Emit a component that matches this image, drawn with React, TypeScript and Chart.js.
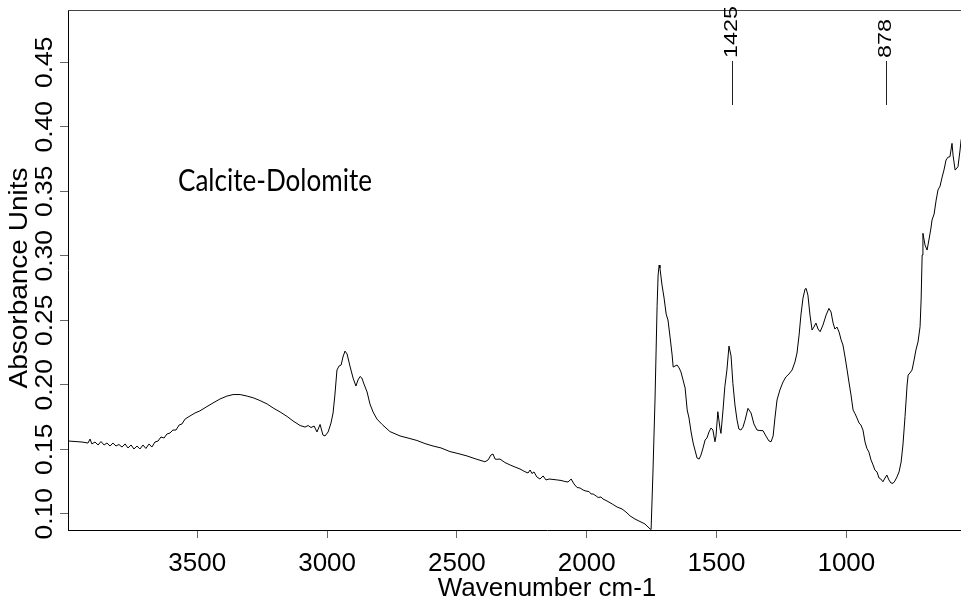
import React, { useEffect, useRef } from 'react';
import { Chart, registerables } from 'chart.js';

Chart.register(...registerables);

const wavenumbers = [
  3998, 3971, 3944, 3921, 3913, 3906, 3894, 3882, 3871, 3859, 3848, 3836, 3825, 3813, 3802, 3790,
  3778, 3767, 3755, 3744, 3732, 3721, 3709, 3698, 3686, 3675, 3663, 3651, 3640, 3628, 3617, 3605,
  3594, 3582, 3570, 3559, 3547, 3528, 3509, 3490, 3466, 3440, 3413, 3386, 3362, 3335, 3308, 3282,
  3258, 3231, 3208, 3181, 3154, 3131, 3104, 3085, 3073, 3062, 3050, 3039, 3027, 3016, 3008, 2996,
  2985, 2977, 2970, 2962, 2954, 2946, 2939, 2931, 2923, 2912, 2900, 2889, 2881, 2873, 2866, 2858,
  2846, 2835, 2823, 2808, 2788, 2758, 2719, 2681, 2654, 2623, 2592, 2561, 2527, 2496, 2461, 2426,
  2392, 2380, 2369, 2361, 2353, 2346, 2334, 2315, 2295, 2276, 2257, 2238, 2226, 2218, 2211, 2203,
  2192, 2180, 2168, 2157, 2145, 2130, 2114, 2099, 2084, 2072, 2060, 2049, 2037, 2026, 2014, 2003,
  1991, 1983, 1975, 1964, 1956, 1945, 1937, 1922, 1902, 1883, 1864, 1849, 1833, 1814, 1795, 1776,
  1756, 1752, 1745, 1737, 1729, 1725, 1721, 1718, 1710, 1702, 1694, 1687, 1679, 1671, 1667, 1660,
  1652, 1644, 1637, 1629, 1621, 1613, 1606, 1598, 1590, 1583, 1575, 1567, 1560, 1552, 1544, 1537,
  1529, 1521, 1514, 1506, 1502, 1495, 1487, 1483, 1475, 1468, 1460, 1452, 1444, 1437, 1429, 1421,
  1414, 1406, 1398, 1390, 1379, 1367, 1356, 1344, 1333, 1321, 1310, 1298, 1290, 1282, 1275, 1267,
  1256, 1244, 1233, 1221, 1209, 1198, 1190, 1182, 1175, 1167, 1159, 1155, 1148, 1140, 1132, 1125,
  1117, 1109, 1101, 1090, 1078, 1067, 1059, 1051, 1044, 1036, 1028, 1020, 1013, 1005, 997, 990,
  982, 974, 967, 959, 951, 944, 936, 928, 921, 913, 905, 897, 890, 882, 874, 867,
  859, 851, 844, 836, 828, 820, 813, 805, 797, 789, 782, 774, 766, 762, 755, 747,
  739, 732, 724, 716, 712, 708, 705, 697, 689, 682, 674, 670, 662, 654, 647, 639,
  631, 624, 616, 608, 601, 597, 593, 589, 581, 574, 570, 562, 558, 551,
];

const absorbance = [
  0.1564, 0.1560, 0.1556, 0.1548, 0.1579, 0.1541, 0.1556, 0.1533, 0.1560, 0.1533, 0.1548, 0.1525, 0.1548, 0.1525, 0.1537, 0.1517,
  0.1541, 0.1510, 0.1533, 0.1502, 0.1525, 0.1502, 0.1533, 0.1506, 0.1541, 0.1517, 0.1556, 0.1564, 0.1595, 0.1587, 0.1618, 0.1626,
  0.1649, 0.1649, 0.1688, 0.1696, 0.1734, 0.1758, 0.1781, 0.1797, 0.1827, 0.1858, 0.1889, 0.1912, 0.1924, 0.1924, 0.1912, 0.1897,
  0.1877, 0.1851, 0.1820, 0.1789, 0.1754, 0.1719, 0.1684, 0.1672, 0.1684, 0.1668, 0.1680, 0.1634, 0.1692, 0.1610, 0.1603, 0.1634,
  0.1703, 0.1781, 0.1920, 0.2114, 0.2145, 0.2153, 0.2215, 0.2261, 0.2238, 0.2145, 0.2052, 0.1990, 0.2037, 0.2064, 0.2052, 0.2006,
  0.1944, 0.1851, 0.1789, 0.1734, 0.1692, 0.1637, 0.1603, 0.1583, 0.1568, 0.1544, 0.1525, 0.1510, 0.1482, 0.1467, 0.1448, 0.1424,
  0.1403, 0.1417, 0.1455, 0.1463, 0.1424, 0.1422, 0.1424, 0.1397, 0.1378, 0.1362, 0.1347, 0.1326, 0.1316, 0.1339, 0.1312, 0.1324,
  0.1285, 0.1269, 0.1293, 0.1262, 0.1269, 0.1266, 0.1262, 0.1258, 0.1250, 0.1246, 0.1269, 0.1231, 0.1203, 0.1200, 0.1184, 0.1176,
  0.1172, 0.1153, 0.1153, 0.1138, 0.1126, 0.1130, 0.1114, 0.1099, 0.1076, 0.1052, 0.1037, 0.1014, 0.0983, 0.0959, 0.0940, 0.0921,
  0.0882, 0.0878, 0.1316, 0.1882, 0.2605, 0.2850, 0.2928, 0.2905, 0.2773, 0.2672, 0.2548, 0.2502, 0.2370, 0.2230, 0.2137, 0.2145,
  0.2153, 0.2130, 0.2099, 0.2037, 0.1975, 0.1804, 0.1742, 0.1634, 0.1548, 0.1494, 0.1432, 0.1424, 0.1455, 0.1510, 0.1572, 0.1587,
  0.1634, 0.1665, 0.1649, 0.1558, 0.1603, 0.1791, 0.1665, 0.1623, 0.1804, 0.1985, 0.2114, 0.2300, 0.2222, 0.2011, 0.1843, 0.1726,
  0.1657, 0.1649, 0.1672, 0.1726, 0.1817, 0.1781, 0.1696, 0.1649, 0.1645, 0.1644, 0.1603, 0.1564, 0.1558, 0.1603, 0.1742, 0.1882,
  0.1959, 0.2021, 0.2060, 0.2083, 0.2114, 0.2176, 0.2246, 0.2385, 0.2540, 0.2672, 0.2742, 0.2747, 0.2695, 0.2540, 0.2424, 0.2447,
  0.2478, 0.2432, 0.2411, 0.2463, 0.2540, 0.2592, 0.2564, 0.2478, 0.2432, 0.2447, 0.2409, 0.2347, 0.2308, 0.2215, 0.2114, 0.2021,
  0.1920, 0.1804, 0.1778, 0.1742, 0.1703, 0.1688, 0.1649, 0.1556, 0.1507, 0.1478, 0.1417, 0.1378, 0.1339, 0.1324, 0.1277, 0.1269,
  0.1248, 0.1277, 0.1300, 0.1262, 0.1238, 0.1236, 0.1254, 0.1285, 0.1324, 0.1401, 0.1533, 0.1752, 0.1998, 0.2075, 0.2091, 0.2114,
  0.2192, 0.2269, 0.2331, 0.2450, 0.2657, 0.3006, 0.3174, 0.3083, 0.3044, 0.3122, 0.3215, 0.3277, 0.3323, 0.3432, 0.3510, 0.3540,
  0.3610, 0.3664, 0.3742, 0.3765, 0.3767, 0.3819, 0.3871, 0.3780, 0.3664, 0.3680, 0.3690, 0.3819, 0.3897, 0.3935,
];

const xTickValues = [3500, 3000, 2500, 2000, 1500, 1000];
const yTickValues = [0.1, 0.15, 0.2, 0.25, 0.3, 0.35, 0.4, 0.45];
const peakLabels = ['1425', '878'];
const peakMarkerAt = [1440, 847];
const sampleName = 'Calcite-Dolomite';
const xTitle = 'Wavenumber cm-1';
const yTitle = 'Absorbance Units';

const SANS = '"Liberation Sans", Arial, sans-serif';

const overlayPlugin = {
  id: 'overlay',
  afterDraw(chart: any) {
    const { ctx, chartArea: ca, scales } = chart;
    const xs = scales.x;
    const ys = scales.y;
    ctx.save();

    // top frame line
    ctx.strokeStyle = '#444';
    ctx.lineWidth = 1;
    ctx.beginPath();
    ctx.moveTo(ca.left, Math.round(ca.top) + 0.5);
    ctx.lineTo(ca.right, Math.round(ca.top) + 0.5);
    ctx.stroke();

    // y tick labels (rotated)
    ctx.fillStyle = '#000';
    ctx.font = `24px ${SANS}`;
    ctx.textAlign = 'center';
    ctx.textBaseline = 'middle';
    ys.ticks.forEach((t: any) => {
      const py = ys.getPixelForValue(t.value);
      ctx.save();
      ctx.translate(ca.left - 23, py);
      ctx.rotate(-Math.PI / 2);
      ctx.scale(1.1, 1);
      ctx.fillText(Number(t.value).toFixed(2), 0, 0);
      ctx.restore();
    });

    // y title
    ctx.save();
    ctx.font = `25px ${SANS}`;
    ctx.translate(20, 278);
    ctx.rotate(-Math.PI / 2);
    ctx.scale(1.12, 1);
    ctx.fillText(yTitle, 0, 0);
    ctx.restore();

    // peak markers
    peakLabels.forEach((lab, i) => {
      const px = Math.round(xs.getPixelForValue(peakMarkerAt[i])) + 0.5;
      ctx.strokeStyle = '#222';
      ctx.beginPath();
      ctx.moveTo(px, ca.top + 51);
      ctx.lineTo(px, ca.top + 95);
      ctx.stroke();
      ctx.save();
      ctx.font = `18px ${SANS}`;
      ctx.textAlign = 'left';
      ctx.textBaseline = 'middle';
      ctx.translate(px, ca.top + 48);
      ctx.rotate(-Math.PI / 2);
      ctx.scale(1.3, 1);
      ctx.fillText(lab, 0, 0);
      ctx.restore();
    });

    // sample name
    ctx.save();
    ctx.font = '30px Lato, "Open Sans", sans-serif';
    ctx.textAlign = 'left';
    ctx.textBaseline = 'alphabetic';
    const w = ctx.measureText(sampleName).width;
    ctx.translate(178, 191);
    ctx.scale(194 / w, 1);
    ctx.fillText(sampleName, 0, 0);
    ctx.restore();

    ctx.restore();
  },
};

export default function App() {
  const canvasRef = useRef<HTMLCanvasElement | null>(null);

  useEffect(() => {
    const canvas = canvasRef.current;
    if (!canvas) return;
    const points = wavenumbers.map((w, i) => ({ x: w, y: absorbance[i] }));
    const chart = new Chart(canvas, {
      type: 'line',
      data: {
        datasets: [
          {
            data: points,
            borderColor: '#000',
            borderWidth: 1,
            pointRadius: 0,
            fill: false,
            tension: 0,
          },
        ],
      },
      options: {
        animation: false,
        responsive: false,
        devicePixelRatio: 1,
        layout: { padding: { top: 10, right: 14, left: 0, bottom: 0 } },
        plugins: { legend: { display: false }, tooltip: { enabled: false } },
        scales: {
          x: {
            type: 'linear',
            reverse: true,
            min: 308,
            max: 3998,
            afterBuildTicks: (s: any) => {
              s.ticks = xTickValues.map((v) => ({ value: v }));
            },
            afterFit: (s: any) => {
              s.height = 74;
            },
            grid: { display: true, drawOnChartArea: false, drawTicks: true, tickLength: 8, tickColor: '#666' },
            border: { display: true, color: '#000', width: 1 },
            ticks: {
              color: '#000',
              font: { family: SANS, size: 26 },
              padding: 10,
              maxRotation: 0,
              minRotation: 0,
              autoSkip: false,
              callback: (v: any) => String(v),
            },
            title: {
              display: true,
              text: xTitle,
              color: '#000',
              font: { family: SANS, size: 26 },
              padding: { top: 0, bottom: 0 },
            },
          },
          y: {
            type: 'linear',
            min: 0.0874,
            max: 0.4905,
            afterBuildTicks: (s: any) => {
              s.ticks = yTickValues.map((v) => ({ value: v }));
            },
            afterFit: (s: any) => {
              s.width = 68;
            },
            grid: { display: true, drawOnChartArea: false, drawTicks: true, tickLength: 8, tickColor: '#666' },
            border: { display: true, color: '#000', width: 1 },
            ticks: { display: false },
            title: { display: false },
          },
        },
      },
      plugins: [overlayPlugin],
    } as any);
    return () => chart.destroy();
  }, []);

  return (
    <div style={{ position: 'fixed', left: 0, top: 0, width: 961, height: 604, overflow: 'hidden', background: '#fff' }}>
      <canvas ref={canvasRef} width={1040} height={604} style={{ display: 'block' }} />
    </div>
  );
}
